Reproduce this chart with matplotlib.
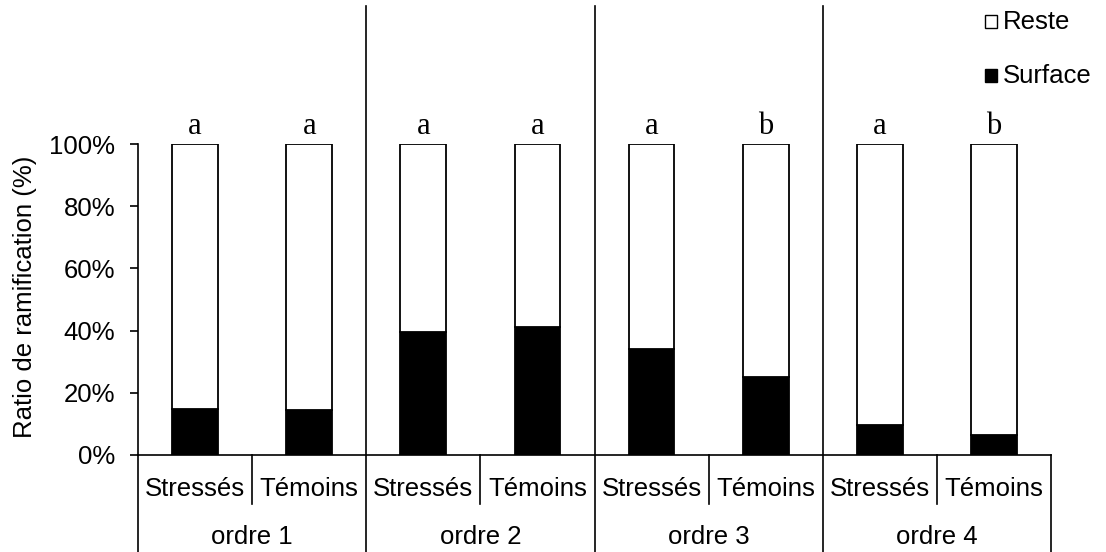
import matplotlib
matplotlib.use("Agg")
import matplotlib.pyplot as plt
from matplotlib.transforms import blended_transform_factory
from matplotlib.patches import Rectangle

# ---- data ----
groups = ["ordre 1", "ordre 2", "ordre 3", "ordre 4"]
treatments = ["Stressés", "Témoins"]
surface = [14.7, 14.4, 39.5, 41.1, 34.1, 25.1, 9.5, 6.3]
reste = [100 - s for s in surface]
letters = ["a", "a", "a", "a", "a", "b", "a", "b"]
yticks = [0, 20, 40, 60, 80, 100]
ytick_labels = ["0%", "20%", "40%", "60%", "80%", "100%"]

W, H = 1106, 552
plt.rcParams['font.family'] = ['Liberation Sans', 'DejaVu Sans']
FS = 18.5

fig = plt.figure(figsize=(W / 100, H / 100), dpi=100)
ax = fig.add_axes([138 / W, 1 - 455 / H, (1051 - 138) / W, (455 - 144) / H])

x = list(range(len(surface)))
lw = 1.3
ax.bar(x, surface, width=0.4, color="black", edgecolor="black", linewidth=lw, zorder=3)
ax.bar(x, reste, width=0.4, bottom=surface, color="white", edgecolor="black", linewidth=lw, zorder=3)

ax.set_xlim(-0.5, len(surface) - 0.5)
ax.set_ylim(0, 100)
ax.set_yticks(yticks)
ax.set_yticklabels(ytick_labels, fontsize=FS)
ax.tick_params(axis="y", direction="out", length=5.8, width=1.2, pad=10.5)
ax.set_xticks([])
for s in ["top", "right"]:
    ax.spines[s].set_visible(False)
ax.spines["left"].set_linewidth(1.2)
ax.spines["bottom"].set_linewidth(1.2)

# significance letters
for xi, yi, lt in zip(x, [surface[i] + reste[i] for i in x], letters):
    ax.annotate(lt, (xi, yi), xytext=(0, 7), textcoords="offset points",
                ha="center", va="baseline", fontsize=22,
                family=["Liberation Serif", "DejaVu Serif"])

# category table lines and labels
tr = blended_transform_factory(ax.transData, fig.transFigure)
def fy(py):
    return 1 - py / H

def vline(xd, y0, y1):
    ax.add_line(plt.Line2D([xd, xd], [fy(y0), fy(y1)], transform=tr, color="black",
                           linewidth=1.2, clip_on=False))

ng = len(groups)
nt = len(treatments)
for g in range(ng + 1):
    xb = g * nt - 0.5
    if g == 0 or g == ng:
        vline(xb, 455, H)
    else:
        vline(xb, 6, H)
for g in range(ng):
    for t in range(nt - 1):
        vline(g * nt + t + 0.5, 455, 504)

for i in x:
    ax.text(i, fy(496.5), treatments[i % nt], transform=tr, ha="center",
            va="baseline", fontsize=FS)
for g, name in enumerate(groups):
    ax.text(g * nt + (nt - 1) / 2, fy(544), name, transform=tr, ha="center",
            va="baseline", fontsize=FS)

# y label
fig.text(25 / W, fy(297), "Ratio de ramification (%)", rotation=90,
         ha="center", va="center", fontsize=FS)

# legend (manual)
legend_items = [("Reste", "white", 29), ("Surface", "black", 83)]
for lab, col, base in legend_items:
    fig.patches.append(Rectangle((985 / W, fy(base - 1)), 12 / W, 13 / H,
                                 transform=fig.transFigure, facecolor=col,
                                 edgecolor="black", linewidth=1.0))
    fig.text(1003 / W, fy(base), lab, ha="left", va="baseline", fontsize=FS)

fig.savefig("out.png", dpi=100)
